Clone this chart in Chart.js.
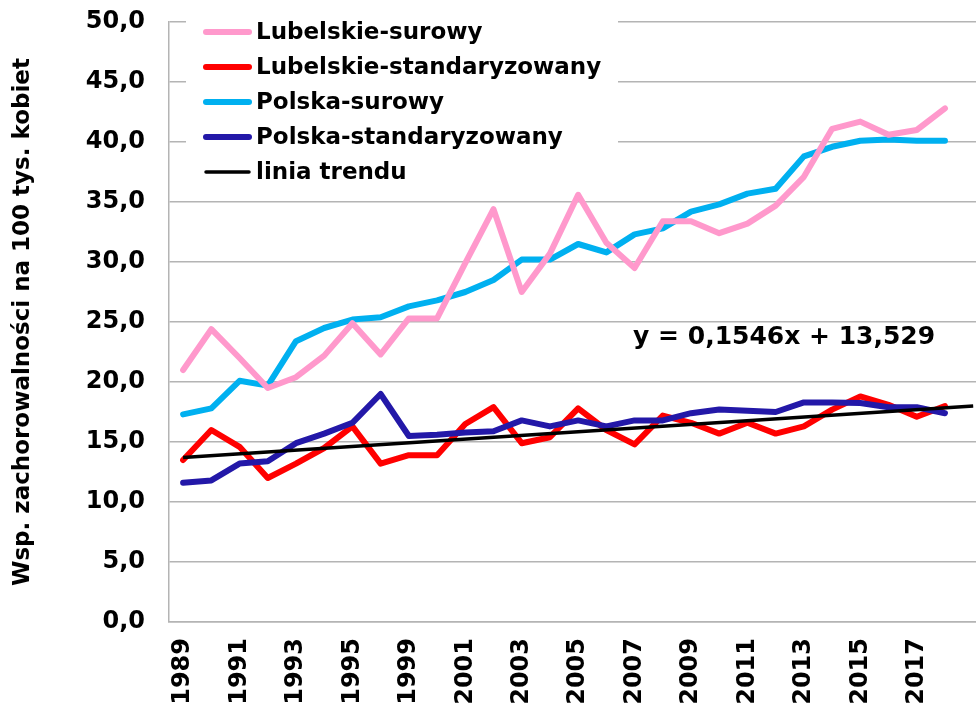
<!DOCTYPE html>
<html>
<head>
<meta charset="utf-8">
<script src="https://cdn.jsdelivr.net/npm/chart.js@4"></script>
<style>
  html, body { margin: 0; padding: 0; background: #fff; overflow: hidden; }
  #wrap { width: 976px; height: 706px; }
</style>
</head>
<body>
<div id="wrap"><canvas id="myChart" width="976" height="706"></canvas></div>
<script>
// years shown on the category axis (one index per data point)
const years = [
  "1989", "1990", "1991", "1992", "1993", "1994", "1995", "1997", "1999", "2000",
  "2001", "2002", "2003", "2004", "2005", "2006", "2007", "2008", "2009", "2010",
  "2011", "2012", "2013", "2014", "2015", "2016", "2017", "2018"
];

const lubelskieSurowy = [
  21.0, 24.4, 22.0, 19.5, 20.4, 22.2, 24.9, 22.3, 25.3, 25.3,
  29.9, 34.4, 27.5, 30.7, 35.6, 31.6, 29.5, 33.4, 33.4, 32.4,
  33.2, 34.7, 37.1, 41.1, 41.7, 40.6, 41.0, 42.8
];

const lubelskieStd = [
  13.5, 16.0, 14.6, 12.0, 13.2, 14.5, 16.3, 13.2, 13.9, 13.9,
  16.5, 17.9, 14.9, 15.4, 17.8, 16.0, 14.8, 17.2, 16.6, 15.7,
  16.6, 15.7, 16.3, 17.7, 18.8, 18.1, 17.1, 18.0
];

const polskaSurowy = [
  17.3, 17.8, 20.1, 19.7, 23.4, 24.5, 25.2, 25.4, 26.3, 26.8,
  27.5, 28.5, 30.2, 30.2, 31.5, 30.8, 32.3, 32.8, 34.2, 34.8,
  35.7, 36.1, 38.8, 39.6, 40.1, 40.2, 40.1, 40.1
];

const polskaStd = [
  11.6, 11.8, 13.2, 13.4, 14.9, 15.7, 16.6, 19.0, 15.5, 15.6,
  15.8, 15.9, 16.8, 16.3, 16.8, 16.3, 16.8, 16.8, 17.4, 17.7,
  17.6, 17.5, 18.3, 18.3, 18.25, 17.9, 17.9, 17.4
];

// trend line: start and end (one period forecast)
const trendX = [0, 28];
const trendY = [13.7, 18.0];

const FONT = "'DejaVu Sans', Verdana, sans-serif";

function toPoints(values) {
  return values.map((v, i) => ({ x: i, y: v }));
}

// legend drawn inside the plot, on a white box over the grid
const legendBox = {
  id: "legendBox",
  beforeDatasetsDraw(chart) {
    const ctx = chart.ctx;
    ctx.save();
    ctx.fillStyle = "#fff";
    ctx.fillRect(186, 12, 432, 180);
    ctx.font = "bold 23px " + FONT;
    ctx.textBaseline = "middle";
    ctx.textAlign = "left";
    chart.data.datasets.forEach((ds, i) => {
      const y = 32 + i * 35;
      ctx.strokeStyle = ds.borderColor;
      ctx.lineWidth = ds.borderWidth;
      ctx.lineCap = "round";
      ctx.beginPath();
      ctx.moveTo(206, y);
      ctx.lineTo(249, y);
      ctx.stroke();
      ctx.fillStyle = "#000";
      ctx.fillText(ds.label, 256, y + 1);
    });
    ctx.restore();
  }
};

// trend equation label
const trendLabel = {
  id: "trendLabel",
  afterDatasetsDraw(chart) {
    const { ctx, scales } = chart;
    ctx.save();
    ctx.font = "bold 25px " + FONT;
    ctx.fillStyle = "#000";
    ctx.textAlign = "center";
    ctx.textBaseline = "middle";
    ctx.fillText("y = 0,1546x + 13,529", scales.x.getPixelForValue(21.3), scales.y.getPixelForValue(23.7));
    ctx.restore();
  }
};

const lineStyle = {
  borderWidth: 6,
  pointRadius: 0,
  tension: 0,
  borderCapStyle: "round",
  borderJoinStyle: "round",
  fill: false
};

const ctx = document.getElementById("myChart").getContext("2d");

new Chart(ctx, {
  type: "line",
  data: {
    datasets: [
      { ...lineStyle, label: "Lubelskie-surowy", data: toPoints(lubelskieSurowy), borderColor: "#FF99CC", order: 2 },
      { ...lineStyle, label: "Lubelskie-standaryzowany", data: toPoints(lubelskieStd), borderColor: "#FF0000", order: 3 },
      { ...lineStyle, label: "Polska-surowy", data: toPoints(polskaSurowy), borderColor: "#00B0F0", order: 4 },
      { ...lineStyle, label: "Polska-standaryzowany", data: toPoints(polskaStd), borderColor: "#2318A8", order: 1 },
      {
        ...lineStyle,
        label: "linia trendu",
        data: trendX.map((x, i) => ({ x: x, y: trendY[i] })),
        borderColor: "#000",
        borderWidth: 3.5,
        borderCapStyle: "butt",
        order: 0
      }
    ]
  },
  options: {
    responsive: false,
    animation: false,
    layout: { padding: { top: 22, left: 0, right: 0, bottom: 0 } },
    scales: {
      x: {
        type: "linear",
        min: -0.5,
        max: 28.1,
        afterFit: (scale) => {
          scale.height = 84;
          scale.paddingLeft = 0;
          scale.paddingRight = 0;
        },
        grid: { display: false, drawTicks: false },
        border: { display: true, color: "#b4b4b4", width: 1.5 },
        ticks: {
          stepSize: 2,
          includeBounds: false,
          autoSkip: false,
          minRotation: 90,
          maxRotation: 90,
          padding: 16,
          color: "#000",
          font: { family: FONT, size: 24, weight: "bold" },
          callback: (v) => years[v] ?? ""
        }
      },
      y: {
        min: 0,
        max: 50,
        afterFit: (scale) => {
          scale.width = 169;
          scale.paddingTop = 0;
          scale.paddingBottom = 0;
        },
        grid: { color: "#b4b4b4", lineWidth: 1.5, drawTicks: false },
        border: { display: true, color: "#b4b4b4", width: 1.5 },
        ticks: {
          stepSize: 5,
          padding: 24,
          color: "#000",
          font: { family: FONT, size: 24, weight: "bold" },
          callback: (v) => v.toFixed(1).replace(".", ",")
        },
        title: {
          display: true,
          text: "Wsp. zachorowalności na 100 tys. kobiet",
          color: "#000",
          font: { family: FONT, size: 23, weight: "bold" },
          padding: { top: 9, bottom: 0 }
        }
      }
    },
    plugins: {
      legend: { display: false },
      tooltip: { enabled: false }
    }
  },
  plugins: [legendBox, trendLabel]
});
</script>
</body>
</html>
